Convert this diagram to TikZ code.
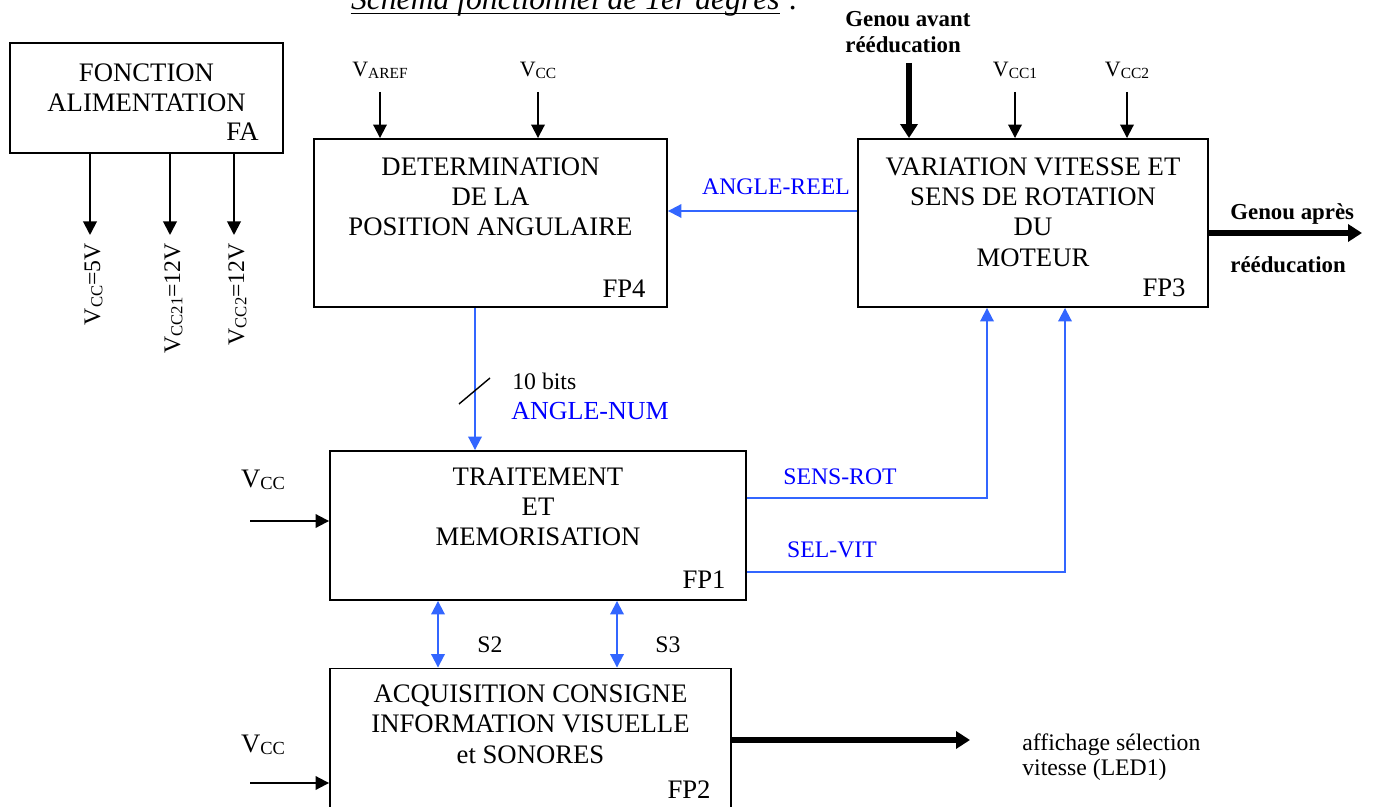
\documentclass[tikz,border=0pt]{standalone}
\usepackage{fontspec}
\setmainfont{Liberation Serif}
\usetikzlibrary{arrows.meta, positioning}

\definecolor{bleutrait}{RGB}{51,102,255}
\definecolor{bleutexte}{RGB}{0,0,255}

\newcommand{\grand}{\fontsize{15.2}{17.3}\selectfont}
\newcommand{\moyen}{\fontsize{12.5}{14}\selectfont}
\newcommand{\indice}[2][8.8]{\raisebox{-0.2ex}{\fontsize{#1}{#1}\selectfont #2}}

\tikzset{
	bloc/.style={draw, line width=1.1pt},
	boxtxt/.style={font=\grand, align=center},
	nomfp/.style={font=\grand},
	fleche/.style={->, line width=1.1pt},
	grosse/.style={-{Triangle[length=0.28cm, width=0.34cm]}, line width=0.11cm},
	lienbleu/.style={->, line width=1.1pt, draw=bleutrait, color=bleutrait},
	etiqbleu/.style={font=\fontsize{13.5}{16}\selectfont, text=bleutexte},
	gras/.style={font=\fontsize{13}{15}\selectfont\bfseries, align=left}
}

\begin{document}
\begin{tikzpicture}[x=0.02cm, y=-0.02cm, >={Triangle[length=0.27cm, width=0.27cm]}, every node/.style={inner sep=0pt}]
	\useasboundingbox (0,0) rectangle (1373,807);
	
	% titre (coupe en haut)
	\node[anchor=base east, font=\fontsize{18}{20}\selectfont\itshape] (titre) at (780,10) {Schéma fonctionnel de 1er degrés};
	\draw[line width=0.8pt] ([yshift=-0.07cm]titre.base west) -- ([yshift=-0.07cm]titre.base east);
	\node[anchor=base west, font=\fontsize{18}{20}\selectfont] (deuxpts) at (788,10) {:};
	
	% fonction alimentation FA
	\node[bloc, minimum width=5.46cm, minimum height=2.2cm] (fa) at (146.5,98) {};
	\node[boxtxt, below=0.42cm of fa.north] (fat) {FONCTION\\ALIMENTATION};
	\node[nomfp, above left=0.26cm and 0.5cm of fa.south east] (fan) {FA};
	\foreach \px/\id/\etiq in {90/vcc5/{V\indice[9.5]{CC}=5V}, 170/vcc21/{V\indice[9.5]{CC21}=12V}, 234/vcc22/{V\indice[9.5]{CC2}=12V}} {
		\coordinate (\id) at (\px,235);
		\draw[fleche] (fa.south -| \id) -- (\id);
		\node[rotate=90, anchor=east, font=\fontsize{13.5}{15}\selectfont] (l\id) at ([xshift=0.07cm, yshift=-0.16cm]\id) {\etiq};
	}
	
	% FP4
	\node[bloc, minimum width=7.06cm, minimum height=3.36cm] (fp4) at (490.5,223) {};
	\node[boxtxt, below=0.38cm of fp4.north] (fp4t) {DETERMINATION\\DE LA\\POSITION ANGULAIRE};
	\node[nomfp, above left=0.2cm and 0.44cm of fp4.south east] (fp4n) {FP4};
	\node[font=\moyen] (varef) at (380,70) {V\indice{AREF}};
	\node[font=\moyen] (vccfp4) at (538,70) {V\indice{CC}};
	\draw[fleche] ([yshift=-0.44cm]varef.center) -- (varef |- fp4.north);
	\draw[fleche] ([yshift=-0.44cm]vccfp4.center) -- (vccfp4 |- fp4.north);
	
	% FP3
	\node[bloc, minimum width=7cm, minimum height=3.36cm] (fp3) at (1033,223) {};
	\node[boxtxt, below=0.38cm of fp3.north] (fp3t) {VARIATION VITESSE ET\\SENS DE ROTATION\\DU\\MOTEUR};
	\node[nomfp, above left=0.22cm and 0.46cm of fp3.south east] (fp3n) {FP3};
	\node[gras, anchor=north west] (genav) at (845,11) {Genou avant\\rééducation};
	\coordinate (genin) at (909,63);
	\draw[grosse] (genin) -- (genin |- fp3.north);
	\node[font=\moyen] (vcc1) at (1015,70) {V\indice{CC1}};
	\node[font=\moyen] (vcc2) at (1127,70) {V\indice{CC2}};
	\draw[fleche] ([yshift=-0.44cm]vcc1.center) -- (vcc1 |- fp3.north);
	\draw[fleche] ([yshift=-0.44cm]vcc2.center) -- (vcc2 |- fp3.north);
	\coordinate (genout) at (1362,233);
	\draw[grosse] (fp3.east |- genout) -- (genout);
	\node[gras, anchor=base west] (genap) at (1230,220) {Genou après};
	\node[gras, anchor=base west] (genap2) at (1230,273) {rééducation};
	
	% ANGLE-REEL
	\draw[lienbleu] (fp3.west |- 0,211) -- (fp4.east |- 0,211);
	\node[etiqbleu] (angreel) at (776,187) {ANGLE-REEL};
	
	% FP1
	\node[bloc, minimum width=8.32cm, minimum height=2.98cm] (fp1) at (538,525.5) {};
	\node[boxtxt, below=0.34cm of fp1.north] (fp1t) {TRAITEMENT\\ET\\MEMORISATION};
	\node[nomfp, above left=0.24cm and 0.42cm of fp1.south east] (fp1n) {FP1};
	\node[font=\grand] (vccfp1) at (263,480) {V\indice[10.5]{CC}};
	\coordinate (vccin1) at (250,521);
	\draw[fleche] (vccin1) -- (vccin1 -| fp1.west);
	
	% FP4 -> FP1, 10 bits
	\draw[lienbleu] (fp4.south -| 475,0) -- (fp1.north -| 475,0);
	\draw[line width=0.8pt] (459,404) -- (490,378);
	\node[font=\fontsize{13.5}{15}\selectfont, anchor=west] (bits) at (512,381) {10 bits};
	\node[etiqbleu, font=\fontsize{14.8}{16}\selectfont, anchor=west] (angnum) at (511,411) {ANGLE-NUM};
	
	% FP1 -> FP3
	\draw[lienbleu] (fp1.east |- 0,498) -| (fp3.south -| 987,0);
	\draw[lienbleu] (fp1.east |- 0,572) -| (fp3.south -| 1065,0);
	\node[etiqbleu] (sensrot) at (840,477) {SENS-ROT};
	\node[etiqbleu] (selvit) at (832,550) {SEL-VIT};
	
	% FP2
	\node[bloc, minimum width=8.02cm, minimum height=2.9cm] (fp2) at (530.5,741) {};
	\node[boxtxt, below=0.34cm of fp2.north] (fp2t) {ACQUISITION CONSIGNE\\INFORMATION VISUELLE\\et SONORES};
	\node[nomfp, above left=0.32cm and 0.42cm of fp2.south east] (fp2n) {FP2};
	\node[font=\grand] (vccfp2) at (263,745) {V\indice[10.5]{CC}};
	\coordinate (vccin2) at (250,783);
	\draw[fleche] (vccin2) -- (vccin2 -| fp2.west);
	
	% S2, S3
	\draw[lienbleu, <->] (fp1.south -| 438,0) -- (fp2.north -| 438,0);
	\draw[lienbleu, <->] (fp1.south -| 617,0) -- (fp2.north -| 617,0);
	\node[font=\fontsize{13.5}{15}\selectfont] (s2) at (490,645) {S2};
	\node[font=\fontsize{13.5}{15}\selectfont] (s3) at (668,645) {S3};
	
	% sortie affichage
	\coordinate (affout) at (970,740);
	\draw[grosse] (fp2.east |- affout) -- (affout);
	\node[font=\fontsize{13.5}{14.5}\selectfont, align=left, anchor=north west] (aff) at (1022,733) {affichage sélection\\vitesse (LED1)};
\end{tikzpicture}
\end{document}
